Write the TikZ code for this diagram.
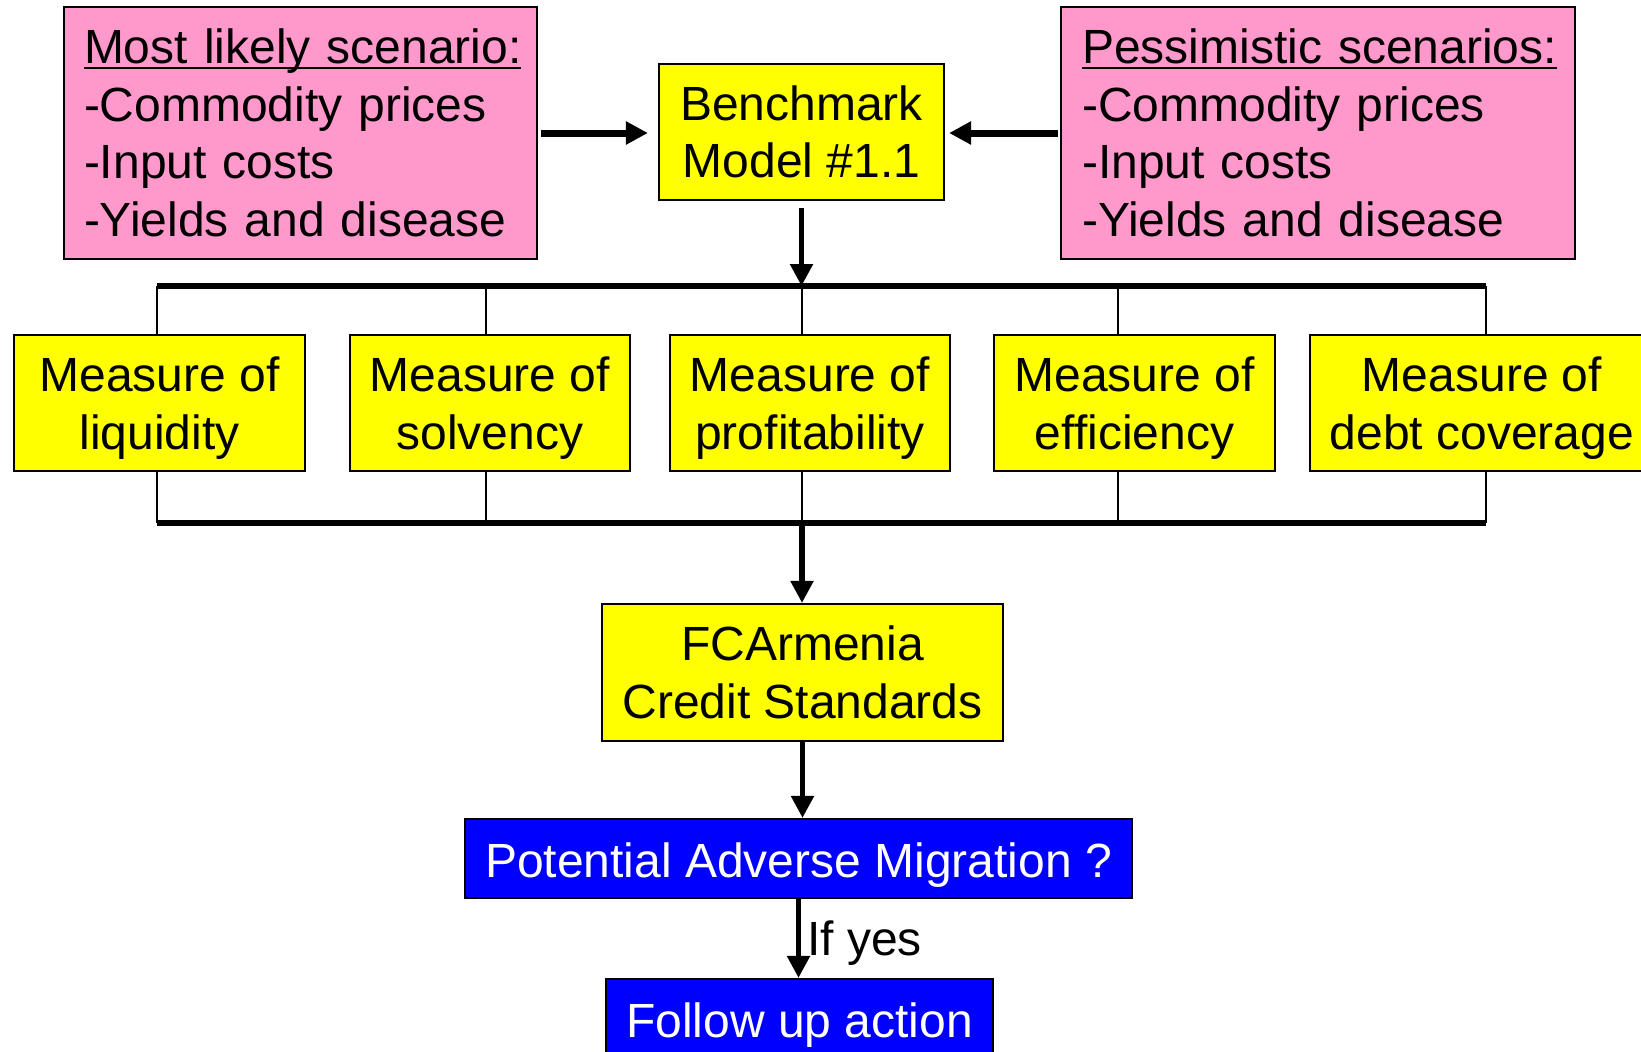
\documentclass[tikz,border=0pt]{standalone}
\usepackage{fontspec}
\setmainfont{Liberation Sans}
\usetikzlibrary{arrows.meta, positioning, calc}
\definecolor{scenpink}{HTML}{FF99CC}
\definecolor{boxyellow}{HTML}{FFFF00}
\definecolor{boxblue}{HTML}{0000FF}
\newcommand{\slidefont}{\fontsize{24pt}{28.8pt}\selectfont}
\newcommand{\mstrut}{\rule{0pt}{22.5pt}}
\newsavebox{\headbox}
\newcommand{\headul}[1]{\sbox{\headbox}{#1}\rlap{\rule[-2.6pt]{\wd\headbox}{1.2pt}}\usebox{\headbox}}

\begin{document}
\begin{tikzpicture}[x=0.5pt, y=-0.5pt,
  every node/.style={font=\slidefont},
  scen/.style={draw, line width=1.1pt, fill=scenpink, align=left, inner xsep=10pt, minimum height=126pt},
  ybox/.style={draw, line width=1.1pt, fill=boxyellow, align=center, inner sep=0pt, minimum height=68pt},
  bbox/.style={draw, line width=1.1pt, fill=boxblue, text=white, inner sep=0pt, minimum height=39.5pt, text height=18.5pt, text depth=0pt},
  flow/.style={-{Triangle[length=11pt, width=11pt]}, line width=2.6pt},
  bus/.style={line width=3pt},
  stub/.style={line width=1.4pt}]
\useasboundingbox (0,0) rectangle (1641,1051);
\clip (0,0) rectangle (1641,1051);
% Scenarios feeding the benchmark model
\node[scen, text width=216.5pt] (likely) at (300.5,133) {\headul{Most likely scenario:}\\-Commodity prices\\-Input costs\\-Yields and disease};
\node[scen, text width=236pt, inner xsep=10.5pt] (pess) at (1318,133) {\headul{Pessimistic scenarios:}\\-Commodity prices\\-Input costs\\-Yields and disease};
\node[ybox, minimum width=142.5pt] (bench) at (801.5,132) {Benchmark\\Model \#1.1};
\draw[flow, line width=3.5pt, shorten <=1.5pt, shorten >=5pt] (likely.east) -- (likely.east -| bench.west);
\draw[flow, line width=3.5pt, shorten <=1pt, shorten >=2pt] (pess.west) -- (pess.west -| bench.east);
% Measures
\node[ybox, minimum width=145.5pt] (liq) at (159.5,403) {\mstrut Measure of\\liquidity};
\node[ybox, minimum width=140pt] (solv) at (490,403) {\mstrut Measure of\\solvency};
\node[ybox, minimum width=140pt] (prof) at (810,403) {\mstrut Measure of\\profitability};
\node[ybox, minimum width=140.5pt] (eff) at (1134.5,403) {\mstrut Measure of\\efficiency};
\node[ybox, minimum width=172pt] (debt) at (1482,403) {\mstrut Measure of\\debt coverage};
% Buses above and below the measures
\coordinate (topL) at (157,286);
\coordinate (topR) at (1486,286);
\coordinate (botL) at (157,523);
\coordinate (botR) at (1486,523);
\draw[bus] (topL) -- (topR);
\draw[bus] (botL) -- (botR);
\foreach \m/\x in {liq/157, solv/486, prof/802, eff/1118, debt/1486} {
  \coordinate (t\m) at (\x,286);
  \coordinate (b\m) at (\x,523);
  \draw[stub] (t\m) -- (t\m |- \m.north);
  \draw[stub] (b\m |- \m.south) -- (b\m);
}
\draw[flow, shorten <=3.5pt] (bench.south) -- (bench.south |- topL);
% Standards and follow up
\node[ybox, minimum width=200.5pt, minimum height=68.5pt] (fca) at (802.5,672.5) {FCArmenia\\Credit Standards};
\node[bbox, minimum width=333.5pt] (pam) at (798.5,858.5) {Potential Adverse Migration ?};
\node[bbox, minimum width=193.5pt] (fua) at (799.5,1018.5) {Follow up action};
\draw[flow] (bprof) -- (bprof |- fca.north);
\draw[flow] (fca.south) -- (fca.south |- pam.north);
\draw[flow] (pam.south) -- (pam.south |- fua.north) node[midway, right, inner sep=3pt, yshift=-2.5pt] {If yes};
\end{tikzpicture}
\end{document}
